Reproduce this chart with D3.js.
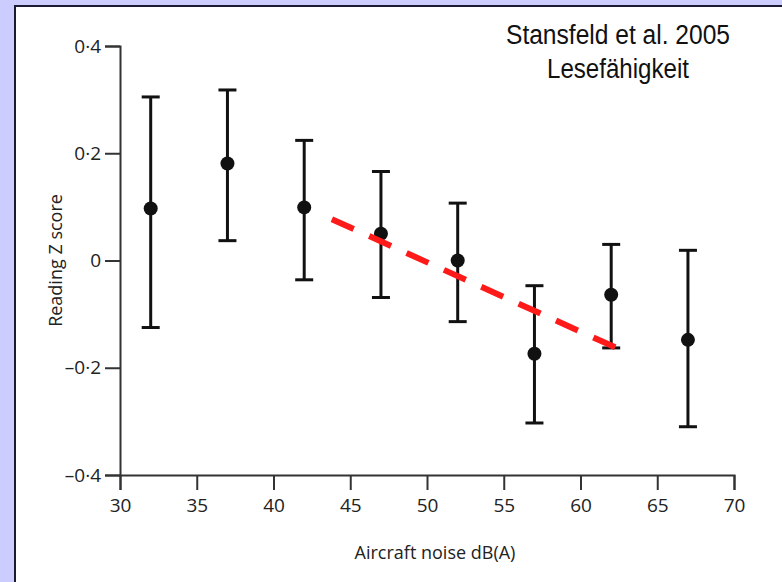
<!DOCTYPE html>
<html>
<head>
<meta charset="utf-8">
<script src="https://cdn.jsdelivr.net/npm/d3@7"></script>
<style>
  body { margin: 0; background: #ccccff; }
  svg { display: block; }
  .axis path, .axis line { stroke: #333; stroke-width: 2; }
  .axis text { font-family: "Open Sans", sans-serif; font-size: 19px; fill: #222; }
  .label { font-family: "Open Sans", sans-serif; font-size: 18px; fill: #222; }
  .title { font-family: "Liberation Sans", sans-serif; font-size: 27px; fill: #111; }
</style>
</head>
<body>
<div id="chart"></div>
<script>
// noise levels (dB(A)) and reading Z scores with CI
var noise = [32, 37, 42, 47, 52, 57, 62, 67];
var zMean = [0.097, 0.181, 0.099, 0.050, 0.000, -0.174, -0.064, -0.148];
var zUpper = [0.305, 0.318, 0.224, 0.166, 0.107, -0.047, 0.030, 0.019];
var zLower = [-0.125, 0.037, -0.036, -0.069, -0.114, -0.303, -0.163, -0.310];

// red dashed trend line, end points
var trendX = [43.8, 62.5];
var trendY = [0.077, -0.165];

var xTicks = [30, 35, 40, 45, 50, 55, 60, 65, 70];
var yTicks = [-0.4, -0.2, 0, 0.2, 0.4];
var yTickLabels = ['\u20130\u00b74', '\u20130\u00b72', '0', '0\u00b72', '0\u00b74'];

var width = 782, height = 582;
var svg = d3.select('#chart').append('svg')
  .attr('width', width)
  .attr('height', height);

// white panel with dark edge at top/left
svg.append('rect')
  .attr('x', 15).attr('y', 6)
  .attr('width', width).attr('height', height)
  .attr('fill', '#fff')
  .attr('stroke', '#1a1a33')
  .attr('stroke-width', 2);

var xScale = d3.scaleLinear().domain([30, 70]).range([120, 734]);
var yScale = d3.scaleLinear().domain([-0.4, 0.4]).range([475, 46]);

var xAxis = d3.axisBottom(xScale)
  .tickValues(xTicks)
  .tickSize(15)
  .tickPadding(9)
  .tickFormat(d3.format('d'));

svg.append('g')
  .attr('class', 'x axis')
  .attr('transform', 'translate(0,' + yScale(-0.4) + ')')
  .call(xAxis);

var yAxis = d3.axisLeft(yScale)
  .tickValues(yTicks)
  .tickSize(15)
  .tickPadding(4)
  .tickFormat(function (d, i) { return yTickLabels[i]; });

svg.append('g')
  .attr('class', 'y axis')
  .attr('transform', 'translate(' + xScale(30) + ',0)')
  .call(yAxis);

svg.append('text')
  .attr('class', 'label')
  .attr('text-anchor', 'middle')
  .attr('x', 435)
  .attr('y', 559)
  .text('Aircraft noise dB(A)');

svg.append('text')
  .attr('class', 'label')
  .attr('text-anchor', 'middle')
  .attr('transform', 'translate(62,' + yScale(0) + ') rotate(-90)')
  .text('Reading Z score');

// error bars
var bars = svg.append('g').selectAll('.bar')
  .data(noise)
  .enter().append('g')
  .attr('class', 'bar');

bars.append('line')
  .attr('x1', function (d) { return xScale(d); })
  .attr('x2', function (d) { return xScale(d); })
  .attr('y1', function (d, i) { return yScale(zUpper[i]); })
  .attr('y2', function (d, i) { return yScale(zLower[i]); })
  .attr('stroke', '#111')
  .attr('stroke-width', 3);

[zUpper, zLower].forEach(function (arr) {
  bars.append('line')
    .attr('x1', function (d) { return xScale(d) - 9; })
    .attr('x2', function (d) { return xScale(d) + 9; })
    .attr('y1', function (d, i) { return yScale(arr[i]); })
    .attr('y2', function (d, i) { return yScale(arr[i]); })
    .attr('stroke', '#111')
    .attr('stroke-width', 3);
});

bars.append('circle')
  .attr('cx', function (d) { return xScale(d); })
  .attr('cy', function (d, i) { return yScale(zMean[i]); })
  .attr('r', 7)
  .attr('fill', '#111');

svg.append('line')
  .attr('x1', xScale(trendX[0]))
  .attr('y1', yScale(trendY[0]))
  .attr('x2', xScale(trendX[1]))
  .attr('y2', yScale(trendY[1]))
  .attr('stroke', '#ff1a1a')
  .attr('stroke-width', 6)
  .attr('stroke-dasharray', '24,17');

svg.append('text')
  .attr('class', 'title')
  .attr('text-anchor', 'middle')
  .attr('x', 618).attr('y', 44)
  .attr('textLength', 224)
  .attr('lengthAdjust', 'spacingAndGlyphs')
  .text('Stansfeld et al. 2005');

svg.append('text')
  .attr('class', 'title')
  .attr('text-anchor', 'middle')
  .attr('x', 618).attr('y', 78)
  .attr('textLength', 142)
  .attr('lengthAdjust', 'spacingAndGlyphs')
  .text('Lesefähigkeit');
</script>
</body>
</html>
